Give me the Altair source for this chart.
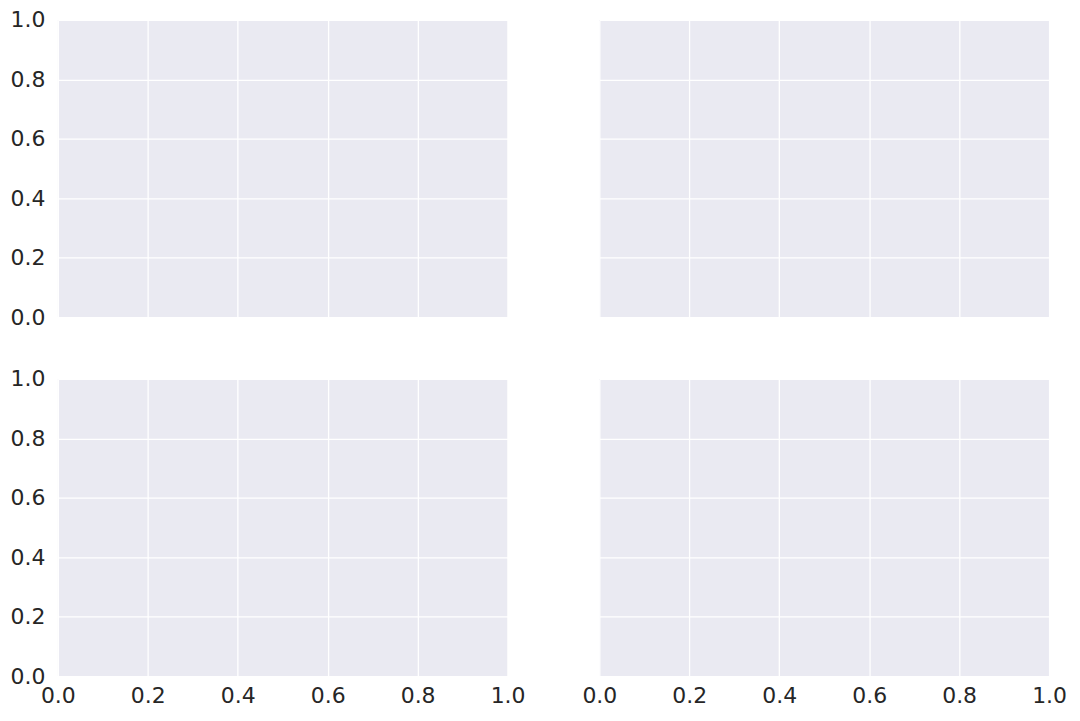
import altair as alt
import pandas as pd

x_ticks = [0.0, 0.2, 0.4, 0.6, 0.8, 1.0]
y_ticks = [0.0, 0.2, 0.4, 0.6, 0.8, 1.0]
x_domain = [0.0, 1.0]
y_domain = [0.0, 1.0]

df = pd.DataFrame({"x": [0.5], "y": [0.5]})

FONT = "DejaVu Sans"
W, H = 451, 298


def panel(show_x, show_y):
    xaxis = alt.Axis(values=x_ticks, format=".1f", title=None, labels=show_x,
                     grid=True, ticks=False, domain=False, labelFlush=False,
                     labelPadding=9)
    yaxis = alt.Axis(values=y_ticks, format=".1f", title=None, labels=show_y,
                     grid=True, ticks=False, domain=False, labelFlush=False,
                     labelPadding=13)
    return alt.Chart(df).mark_point(opacity=0).encode(
        x=alt.X("x:Q", scale=alt.Scale(domain=x_domain, nice=False, zero=False), axis=xaxis),
        y=alt.Y("y:Q", scale=alt.Scale(domain=y_domain, nice=False, zero=False), axis=yaxis),
    ).properties(width=W, height=H)


chart = alt.concat(
    panel(False, True), panel(False, False),
    panel(True, True), panel(True, False),
    columns=2, spacing={"row": 62, "column": 92}, bounds="flush",
).configure(
    padding={"left": 2, "top": 0, "right": 5, "bottom": 5}, background="white"
).configure_view(
    fill="#EAEAF2", stroke=None
).configure_axis(
    gridColor="white", gridWidth=1.3, labelFont=FONT, labelFontSize=22,
    labelColor="#262626",
)

chart.save("out.html", embed_options={"renderer": "svg", "actions": False})
